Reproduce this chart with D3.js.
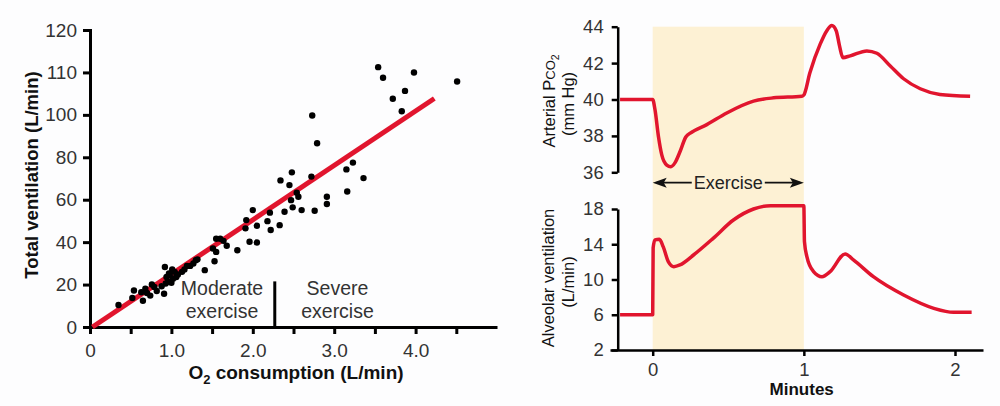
<!DOCTYPE html>
<html><head><meta charset="utf-8">
<script src="https://cdn.jsdelivr.net/npm/d3@7"></script>
<style>
html,body{margin:0;padding:0;background:#fdfdfe;}
svg{display:block;font-family:"Liberation Sans",Arial,Helvetica,sans-serif;}
</style></head><body>
<svg id="chart" width="1000" height="406"></svg>
<script>
// ---------- Left panel data ----------
const o2Consumption = [0.35,0.52,0.54,0.63,0.65,0.68,0.70,0.74,0.76,0.79,0.82,0.88,0.91,0.92,0.93,0.94,0.96,0.97,0.98,0.99,1.00,1.01,1.02,1.04,1.06,1.08,1.13,1.16,1.19,1.23,1.27,1.30,1.32,1.41,1.51,1.53,1.55,1.55,1.60,1.64,1.68,1.81,1.91,1.92,1.96,2.00,2.05,2.05,2.18,2.21,2.22,2.33,2.34,2.39,2.45,2.47,2.48,2.49,2.54,2.56,2.60,2.72,2.73,2.76,2.79,2.91,2.91,3.15,3.16,3.23,3.36,3.54,3.60,3.72,3.83,3.87,3.98,4.51];
const totalVentilation = [10.4,13.7,17.2,16.4,12.4,18.0,16.0,14.8,20.0,18.9,17.0,19.2,15.7,28.3,20.5,23.6,21.4,25.2,24.5,21.3,20.8,27.1,22.8,26.0,23.6,24.8,26.0,27.1,28.8,28.8,29.9,31.5,31.9,26.8,37.0,31.0,35.4,41.6,41.6,40.6,38.3,36.2,46.5,50.4,40.2,55.1,47.7,39.8,49.9,53.9,45.7,48.0,69.1,54.3,66.9,59.8,72.9,56.4,63.3,61.4,55.1,70.9,99.7,54.8,86.6,61.4,58.0,74.3,63.9,77.5,70.2,122.5,117.5,107.6,101.7,111.3,120.0,115.7];
const fitO2 = [0.03, 4.23];
const fitVent = [0, 107.7];
const xTicksLeft = [0,0.5,1,1.5,2,2.5,3,3.5,4,4.5];
const xTickLabelsLeft = ["0","","1.0","","2.0","","3.0","","4.0",""];
const yTicksLeft = [0,20,40,60,80,100,120,140];
const yTickLabelsLeft = ["0","20","40","60","80","100","110","120"];
const dividerO2 = 2.27;
const dividerVent = [0, 21.5];
const zoneModerate = ["Moderate","exercise"];
const zoneSevere = ["Severe","exercise"];

// ---------- Right panel data ----------
const pco2Time = [-0.216,0,0.015,0.038,0.06,0.093,0.12,0.148,0.181,0.219,0.258,0.358,0.49,0.667,0.8,0.987,1.0,1.04,1.108,1.152,1.185,1.214,1.236,1.258,1.307,1.417,1.483,1.572,1.66,1.77,1.9,2.1];
const pco2Value = [40,40,39.45,37.97,36.96,36.4,36.31,36.53,37.14,37.94,38.2,38.62,39.26,39.91,40.09,40.18,40.25,41.47,43.04,43.78,44.06,43.78,42.95,42.3,42.4,42.67,42.54,41.84,41.14,40.59,40.28,40.18];
const ventTime = [-0.216,0,0.003,0.015,0.044,0.07,0.104,0.14,0.18,0.27,0.4,0.534,0.667,0.78,0.996,1.0,1.004,1.02,1.064,1.12,1.174,1.273,1.33,1.46,1.66,1.86,1.99,2.11];
const ventValue = [6,6,13.6,14.5,14.56,13.7,12.0,11.46,11.65,12.78,14.67,16.75,18.0,18.38,18.38,18.38,14.3,12.6,10.9,10.32,10.9,12.9,12.2,10.32,8.24,6.73,6.28,6.28];
const pco2Ticks = [36,38,40,42,44];
const ventTicks = [2,6,10,14,18];
const minuteTicks = [0,1,2];
const minuteTickLabels = ["0","1","2"];
const exercisePeriod = [0,1];
const exerciseLabel = "Exercise";

const RED = "#e1152e";
const TXT = "#333";
const svg = d3.select("#chart");

// ================= LEFT PANEL =================
const xL = d3.scaleLinear().domain([0,5]).range([90,497]);
const yL = d3.scaleLinear().domain([0,140]).range([327,30]);

function styleAxis(g, sw, fs){
  g.select(".domain").attr("stroke","#000").attr("stroke-width",sw);
  g.selectAll(".tick line").attr("stroke","#000").attr("stroke-width",sw);
  g.selectAll(".tick text").attr("fill",TXT).attr("font-size",fs);
}

const gxL = svg.append("g").attr("transform",`translate(0,${yL(0)})`)
  .call(d3.axisBottom(xL).tickValues(xTicksLeft).tickFormat((d,i)=>xTickLabelsLeft[i]).tickSize(7).tickSizeOuter(0));
styleAxis(gxL,3,19);
gxL.selectAll(".tick text").attr("y",30).attr("dy",0);

const gyL = svg.append("g").attr("transform",`translate(${xL(0)},0)`)
  .call(d3.axisLeft(yL).tickValues(yTicksLeft).tickFormat((d,i)=>yTickLabelsLeft[i]).tickSize(7).tickSizeOuter(0).tickPadding(6));
styleAxis(gyL,3,19);
gyL.select(".domain").attr("stroke-linecap","square");

// fit line
svg.append("line")
  .attr("x1",xL(fitO2[0])).attr("y1",yL(fitVent[0]))
  .attr("x2",xL(fitO2[1])).attr("y2",yL(fitVent[1]))
  .attr("stroke",RED).attr("stroke-width",5);

// points
svg.append("g").selectAll("circle").data(o2Consumption).join("circle")
  .attr("cx",d=>xL(d)).attr("cy",(d,i)=>yL(totalVentilation[i])).attr("r",3.2).attr("fill","#000");

// divider
svg.append("line").attr("x1",xL(dividerO2)).attr("x2",xL(dividerO2))
  .attr("y1",yL(dividerVent[0])).attr("y2",yL(dividerVent[1]))
  .attr("stroke","#000").attr("stroke-width",3);

function zoneText(lines, cx){
  const t = svg.append("text").attr("text-anchor","middle").attr("font-size",19.5).attr("fill",TXT);
  lines.forEach((l,i)=>t.append("tspan").attr("x",cx).attr("y",295+i*22.5).text(l));
}
zoneText(zoneModerate, 222);
zoneText(zoneSevere, 337.5);

// axis titles
const xtL = svg.append("text").attr("x",296).attr("y",379).attr("text-anchor","middle")
  .attr("font-size",19).attr("font-weight","bold").attr("fill","#111");
xtL.append("tspan").text("O");
xtL.append("tspan").attr("font-size",13).attr("dy",5).text("2");
xtL.append("tspan").attr("dy",-5).text(" consumption (L/min)");

svg.append("text").attr("transform","translate(37.5,175) rotate(-90)").attr("text-anchor","middle")
  .attr("font-size",18.5).attr("font-weight","bold").attr("fill","#111").text("Total ventilation (L/min)");

// ================= RIGHT PANEL =================
const xR = d3.scaleLinear().domain([0,2]).range([652.7,955]);
const yTop = d3.scaleLinear().domain([36,44]).range([172.3,26.7]);
const yBot = d3.scaleLinear().domain([2,18]).range([350,209]);

// shaded exercise period
svg.append("rect").attr("x",xR(exercisePeriod[0])).attr("y",yTop(44))
  .attr("width",xR(exercisePeriod[1])-xR(exercisePeriod[0]))
  .attr("height",yBot(2)-yTop(44)).attr("fill","#fdf1d4");

const axisX = 617.7;
const gyT = svg.append("g").attr("transform",`translate(${axisX},0)`)
  .call(d3.axisLeft(yTop).tickValues(pco2Ticks).tickSize(6).tickSizeOuter(0).tickPadding(8));
styleAxis(gyT,2.5,18.5);
const gyB = svg.append("g").attr("transform",`translate(${axisX},0)`)
  .call(d3.axisLeft(yBot).tickValues(ventTicks).tickSize(6).tickSizeOuter(0).tickPadding(8));
styleAxis(gyB,2.5,18.5);

const xRaxis = xR.copy().domain([xR.invert(610), xR.invert(983)]).range([610,983]);
const gxR = svg.append("g").attr("transform",`translate(0,${yBot(2)})`)
  .call(d3.axisBottom(xRaxis).tickValues(minuteTicks).tickFormat((d,i)=>minuteTickLabels[i]).tickSize(6).tickSizeOuter(0));
styleAxis(gxR,2.5,18.5);
gxR.selectAll(".tick text").attr("y",26).attr("dy",0);

// curves
const lineTop = d3.line().x(d=>xR(d[0])).y(d=>yTop(d[1])).curve(d3.curveMonotoneX);
svg.append("path").attr("d",lineTop(pco2Time.map((t,i)=>[t,pco2Value[i]])))
  .attr("fill","none").attr("stroke",RED).attr("stroke-width",3.5).attr("stroke-linejoin","round");
const lineBot = d3.line().x(d=>xR(d[0])).y(d=>yBot(d[1])).curve(d3.curveMonotoneX);
svg.append("path").attr("d",lineBot(ventTime.map((t,i)=>[t,ventValue[i]])))
  .attr("fill","none").attr("stroke",RED).attr("stroke-width",3.5).attr("stroke-linejoin","round");

// exercise arrow
const ay = 182.7;
const exText = svg.append("text").attr("x",(xR(0)+xR(1))/2).attr("y",189).attr("text-anchor","middle")
  .attr("font-size",18).attr("fill","#222").text(exerciseLabel);
const tw = exText.node().getComputedTextLength();
const xa = xR(exercisePeriod[0]), xb = xR(exercisePeriod[1]), xm = (xa+xb)/2;
svg.append("line").attr("x1",xa+4).attr("x2",xm-tw/2-2).attr("y1",ay).attr("y2",ay).attr("stroke","#111").attr("stroke-width",1.8);
svg.append("line").attr("x1",xm+tw/2+2).attr("x2",xb-4).attr("y1",ay).attr("y2",ay).attr("stroke","#111").attr("stroke-width",1.8);
svg.append("path").attr("d",`M${xa},${ay} L${xa+14},${ay-5} L${xa+11},${ay} L${xa+14},${ay+5} Z`).attr("fill","#111");
svg.append("path").attr("d",`M${xb},${ay} L${xb-14},${ay-5} L${xb-11},${ay} L${xb-14},${ay+5} Z`).attr("fill","#111");

// right titles
const t1 = svg.append("text").attr("transform","translate(555,101) rotate(-90)").attr("text-anchor","middle")
  .attr("font-size",16.5).attr("fill","#111");
t1.append("tspan").text("Arterial P");
t1.append("tspan").attr("font-size",13).text("CO");
t1.append("tspan").attr("font-size",10.5).attr("dy",4).text("2");
svg.append("text").attr("transform","translate(574,104) rotate(-90)").attr("text-anchor","middle")
  .attr("font-size",16.5).attr("fill","#111").text("(mm Hg)");
svg.append("text").attr("transform","translate(554,278) rotate(-90)").attr("text-anchor","middle")
  .attr("font-size",16.5).attr("fill","#111").text("Alveolar ventilation");
svg.append("text").attr("transform","translate(574,282) rotate(-90)").attr("text-anchor","middle")
  .attr("font-size",16.5).attr("fill","#111").text("(L/min)");
svg.append("text").attr("x",801.7).attr("y",395).attr("text-anchor","middle")
  .attr("font-size",17).attr("font-weight","bold").attr("fill","#111").text("Minutes");
</script>
</body></html>
